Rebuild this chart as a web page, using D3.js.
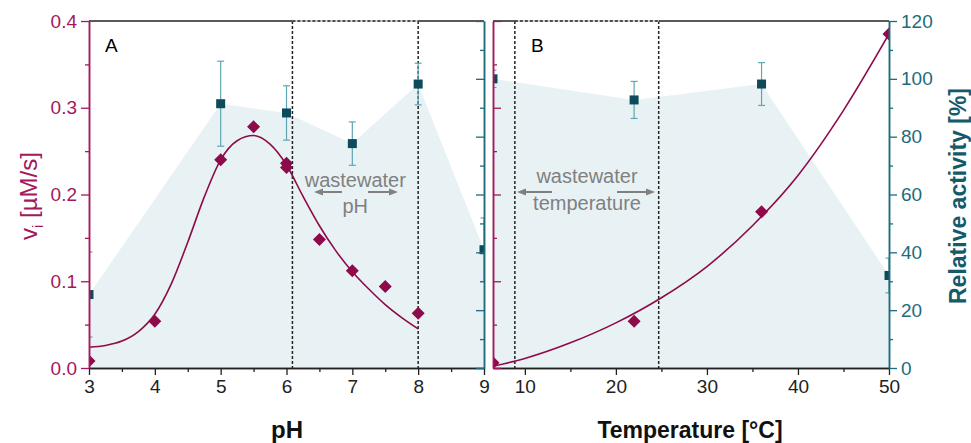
<!DOCTYPE html>
<html>
<head>
  <meta charset="utf-8">
  <title>pH and temperature activity</title>
  <script src="https://cdn.jsdelivr.net/npm/d3@7/dist/d3.min.js"></script>
  <style>
    body { margin: 0; background: #fff; }
    text { font-family: "Liberation Sans", Arial, sans-serif; }
  </style>
</head>
<body>
  <script>
    // ---- data ----
    const phVals = [3, 4, 5, 5.5, 6, 6, 6.5, 7, 7.5, 8];
    const phRate = [0.008, 0.054, 0.240, 0.278, 0.236, 0.231, 0.148, 0.112, 0.094, 0.063];
    const phFitX = [3, 3.25, 3.5, 3.75, 4, 4.25, 4.5, 4.75, 5, 5.25, 5.5, 5.75, 6, 6.25, 6.5, 6.75, 7, 7.25, 7.5, 7.75, 8];
    const phFitY = [0.024, 0.026, 0.031, 0.042, 0.062, 0.097, 0.145, 0.197, 0.240, 0.262, 0.268, 0.258, 0.234, 0.198, 0.164, 0.135, 0.111, 0.091, 0.073, 0.058, 0.045];
    const phAct = [3, 5, 6, 7, 8, 9];
    const phActVal = [25.4, 91.4, 88.2, 77.6, 98.2, 40.9];
    const phActErr = [14.7, 14.7, 9.4, 7.5, 7.2, 11];

    const tVals = [6.5, 22, 36, 50];
    const tRate = [0.006, 0.054, 0.180, 0.385];
    const tFitX = [6.5, 10, 15, 20, 25, 30, 35, 40, 45, 50];
    const tFitY = [0.002, 0.011, 0.029, 0.052, 0.081, 0.117, 0.164, 0.222, 0.297, 0.385];
    const tActVal = [100, 92.7, 98.2, 32];
    const tActErr = [3, 6.4, 7.4, 6];

    const phTicks = [3, 4, 5, 6, 7, 8, 9];
    const tTicks = [10, 20, 30, 40, 50];
    const rateTicks = [0, 0.1, 0.2, 0.3, 0.4];
    const actTicks = [0, 20, 40, 60, 80, 100, 120];
    const phWaste = [6.09, 8.0];
    const tWaste = [8.9, 24.7];

    const width = 971, height = 443;
    const crimson = "#8e0a4a", crimsonAxis = "#a3195b";
    const teal = "#0e4a5a", tealAxis = "#1d6b7c", errCol = "#5fa6b2";
    const fill = "#e8f2f5";

    const svg = d3.select("body").append("svg")
      .attr("width", width).attr("height", height);

    const yTop = 21, yBot = 368;
    const yV = d3.scaleLinear().domain([0, 0.4]).range([yBot, yTop]);
    const yR = d3.scaleLinear().domain([0, 120]).range([yBot, yTop]);
    const xA = d3.scaleLinear().domain([3, 9]).range([89, 484]);
    const xB = d3.scaleLinear().domain([6.5, 50]).range([493, 889]);

    const defs = svg.append("defs");
    function clip(id, x) {
      defs.append("clipPath").attr("id", id).append("rect")
        .attr("x", x.range()[0]).attr("y", yTop)
        .attr("width", x.range()[1] - x.range()[0]).attr("height", yBot - yTop);
    }
    clip("clipA", xA);
    clip("clipB", xB);

    function panel(x, clipId, actX, actY, actE, rX, rY, fitX, fitY, waste) {
      const g = svg.append("g").attr("clip-path", `url(#${clipId})`);
      const pts = actX.map((d, i) => [d, actY[i], actE[i]]);

      // shaded activity area
      g.append("path")
        .datum(pts)
        .attr("fill", fill)
        .attr("d", d3.area().x(d => x(d[0])).y0(yBot).y1(d => yR(d[1])));

      // dashed wastewater window
      waste.forEach(w => {
        g.append("line")
          .attr("x1", x(w)).attr("x2", x(w)).attr("y1", yTop).attr("y2", yBot)
          .attr("stroke", "#222").attr("stroke-width", 1.5).attr("stroke-dasharray", "3,2");
      });

      // fit curve
      const fit = fitX.map((d, i) => [d, fitY[i]]);
      g.append("path")
        .datum(fit)
        .attr("fill", "none").attr("stroke", crimson).attr("stroke-width", 1.6)
        .attr("d", d3.line().x(d => x(d[0])).y(d => yV(d[1])).curve(d3.curveMonotoneX));

      // error bars
      const eb = g.selectAll(null).data(pts).enter().append("g").attr("stroke", errCol).attr("stroke-width", 1.2);
      eb.append("line").attr("x1", d => x(d[0])).attr("x2", d => x(d[0]))
        .attr("y1", d => yR(d[1] - d[2])).attr("y2", d => yR(d[1] + d[2]));
      eb.append("line").attr("x1", d => x(d[0]) - 3.5).attr("x2", d => x(d[0]) + 3.5)
        .attr("y1", d => yR(d[1] - d[2])).attr("y2", d => yR(d[1] - d[2]));
      eb.append("line").attr("x1", d => x(d[0]) - 3.5).attr("x2", d => x(d[0]) + 3.5)
        .attr("y1", d => yR(d[1] + d[2])).attr("y2", d => yR(d[1] + d[2]));

      // activity squares
      g.selectAll(null).data(pts).enter().append("rect")
        .attr("x", d => x(d[0]) - 4.5).attr("y", d => yR(d[1]) - 4.5)
        .attr("width", 9).attr("height", 9).attr("fill", teal);

      // rate diamonds
      g.selectAll(null).data(rX.map((d, i) => [d, rY[i]])).enter().append("path")
        .attr("transform", d => `translate(${x(d[0])},${yV(d[1])})`)
        .attr("d", "M0,-6.5L6.5,0L0,6.5L-6.5,0Z")
        .attr("fill", crimson);

      // top border
      svg.append("line").attr("x1", x.range()[0]).attr("x2", x.range()[1])
        .attr("y1", yTop).attr("y2", yTop).attr("stroke", "#222").attr("stroke-width", 1.3);
      svg.append("line").attr("x1", x(waste[0])).attr("x2", x(waste[1]))
        .attr("y1", yTop).attr("y2", yTop).attr("stroke", "#fff").attr("stroke-width", 1.5);
      svg.append("line").attr("x1", x(waste[0])).attr("x2", x(waste[1]))
        .attr("y1", yTop).attr("y2", yTop).attr("stroke", "#222").attr("stroke-width", 1.5)
        .attr("stroke-dasharray", "3,2");
    }

    panel(xA, "clipA", phAct, phActVal, phActErr, phVals, phRate, phFitX, phFitY, phWaste);
    panel(xB, "clipB", tVals, tActVal, tActErr, tVals, tRate, tFitX, tFitY, tWaste);

    function styleAxis(sel, col, fontSize) {
      sel.select(".domain").attr("stroke", col).attr("stroke-width", 1.5);
      sel.selectAll(".tick line").attr("stroke", col).attr("stroke-width", 1.3);
      sel.selectAll("text").attr("fill", col).attr("font-size", fontSize);
    }

    // bottom axes
    function bottomAxis(x, ticks, minor) {
      const gm = svg.append("g").attr("transform", `translate(0,${yBot})`)
        .call(d3.axisBottom(x).tickValues(minor).tickSize(4).tickFormat("").tickSizeOuter(0));
      styleAxis(gm, "#222", 0);
      const g = svg.append("g").attr("transform", `translate(0,${yBot})`)
        .call(d3.axisBottom(x).tickValues(ticks).tickSize(7).tickPadding(5).tickSizeOuter(0)
          .tickFormat(d3.format("d")));
      styleAxis(g, "#222", 19);
      g.selectAll("text").attr("font-family", "'Liberation Sans Narrow', 'DejaVu Sans Condensed', sans-serif");
    }
    bottomAxis(xA, phTicks, [3.5, 4.5, 5.5, 6.5, 7.5, 8.5]);
    bottomAxis(xB, tTicks, [15, 25, 35, 45]);

    // rate axes (left of A, inside left of B)
    const rateMinor = [0.05, 0.15, 0.25, 0.35];
    function rateAxis(xpos, inner) {
      const ax = inner ? d3.axisRight : d3.axisLeft;
      const gm = svg.append("g").attr("transform", `translate(${xpos},0)`)
        .call(ax(yV).tickValues(rateMinor).tickSize(4).tickFormat("").tickSizeOuter(0));
      styleAxis(gm, crimsonAxis, 0);
      const g = svg.append("g").attr("transform", `translate(${xpos},0)`)
        .call(ax(yV).tickValues(rateTicks).tickSize(8).tickPadding(4).tickSizeOuter(0)
          .tickFormat(inner ? "" : d3.format(".1f")));
      styleAxis(g, crimsonAxis, 19);
    }
    rateAxis(xA.range()[0], false);
    rateAxis(xB.range()[0], true);

    // activity axes (inside right of A, right of B)
    const actMinor = [10, 30, 50, 70, 90, 110];
    function actAxis(xpos, inner) {
      const ax = inner ? d3.axisLeft : d3.axisRight;
      const gm = svg.append("g").attr("transform", `translate(${xpos},0)`)
        .call(ax(yR).tickValues(actMinor).tickSize(4).tickFormat("").tickSizeOuter(0));
      styleAxis(gm, tealAxis, 0);
      const g = svg.append("g").attr("transform", `translate(${xpos},0)`)
        .call(ax(yR).tickValues(actTicks).tickSize(8).tickPadding(4).tickSizeOuter(0)
          .tickFormat(inner ? "" : d3.format("d")));
      styleAxis(g, tealAxis, 19);
    }
    actAxis(xA.range()[1], true);
    actAxis(xB.range()[1], false);

    // panel letters
    svg.append("text").attr("x", 105).attr("y", 52).attr("font-size", 19).text("A");
    svg.append("text").attr("x", 531).attr("y", 52).attr("font-size", 19).text("B");

    // annotations
    const ann = "Roboto, 'DejaVu Sans', sans-serif";
    function arrowPair(x0, x1, x2, x3, y) {
      [[x0, x1], [x2, x3]].forEach(([a, b]) => {
        const dir = Math.sign(b - a);
        svg.append("line").attr("x1", a).attr("x2", b - dir * 6).attr("y1", y).attr("y2", y)
          .attr("stroke", "#808080").attr("stroke-width", 2);
        svg.append("path").attr("d", `M${b},${y}L${b - dir * 9},${y - 3.5}L${b - dir * 9},${y + 3.5}Z`)
          .attr("fill", "#808080");
      });
    }
    const midA = (xA(phWaste[0]) + xA(phWaste[1])) / 2;
    svg.append("text").attr("x", midA).attr("y", 187).attr("text-anchor", "middle")
      .attr("font-family", ann).attr("font-size", 20).attr("fill", "#808080").text("wastewater");
    svg.append("text").attr("x", midA).attr("y", 213).attr("text-anchor", "middle")
      .attr("font-family", ann).attr("font-size", 20).attr("fill", "#808080").text("pH");
    arrowPair(342, 314, 368, 398, 192);

    svg.append("text").attr("x", 587).attr("y", 183).attr("text-anchor", "middle")
      .attr("font-family", ann).attr("font-size", 20).attr("fill", "#808080").text("wastewater");
    svg.append("text").attr("x", 587).attr("y", 210).attr("text-anchor", "middle")
      .attr("font-family", ann).attr("font-size", 20).attr("fill", "#808080").text("temperature");
    arrowPair(552, 517, 617, 655, 192);

    // axis titles
    const lab = "Roboto, 'DejaVu Sans', sans-serif";
    const yl = svg.append("text").attr("transform", "translate(37,196) rotate(-90)")
      .attr("text-anchor", "middle").attr("font-family", lab).attr("font-size", 24)
      .attr("fill", crimsonAxis);
    yl.append("tspan").text("v");
    yl.append("tspan").attr("font-size", 15).attr("dy", 6).text("i");
    yl.append("tspan").attr("dy", -6).text(" [µM/s]");

    svg.append("text").attr("transform", "translate(966,196) rotate(-90)")
      .attr("text-anchor", "middle").attr("font-family", lab).attr("font-size", 23)
      .attr("font-weight", "bold").attr("fill", "#155a6b").text("Relative activity [%]");

    svg.append("text").attr("x", 287).attr("y", 438).attr("text-anchor", "middle")
      .attr("font-family", lab).attr("font-size", 24).attr("font-weight", "bold").attr("fill", "#111").text("pH");
    svg.append("text").attr("x", 690).attr("y", 438).attr("text-anchor", "middle")
      .attr("font-family", lab).attr("font-size", 23).attr("font-weight", "bold").attr("fill", "#111").text("Temperature [°C]");
  </script>
</body>
</html>
